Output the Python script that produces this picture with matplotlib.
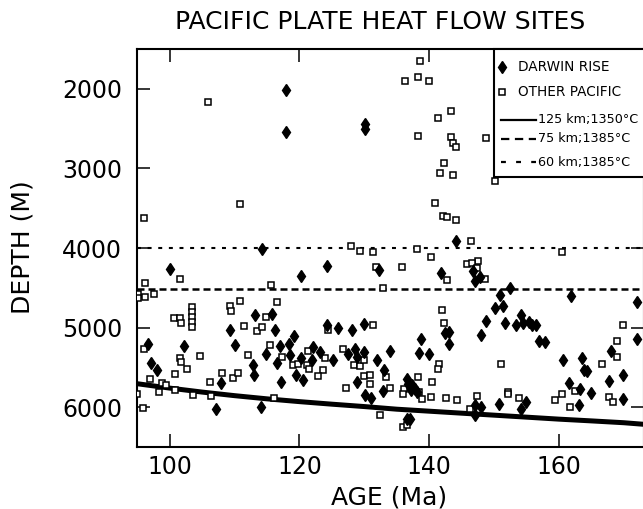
import numpy as np
import matplotlib
matplotlib.use("Agg")
import matplotlib.pyplot as plt
from matplotlib.patches import Rectangle
from matplotlib.lines import Line2D

plt.rcParams["font.family"] = "DejaVu Sans"

# Darwin Rise heat flow sites (age Ma, depth m)
darwin_age = [117.9, 118.0, 130.1, 130.1, 144.1, 114.2,
              100.1, 113.1, 109.3, 96.7, 102.2, 110.1, 97.1, 98.1, 112.9, 113.0, 107.9, 107.1, 114.0,
              124.2, 120.2, 132.3, 115.7, 116.2, 124.2, 125.9, 128.1, 130.0, 119.2, 117.0, 118.4,
              114.9, 118.5, 116.6, 122.1, 123.1, 120.3, 121.9, 125.2, 119.5, 120.6, 117.1, 127.5,
              128.5, 128.9, 130.0, 131.9, 134.0, 133.0, 128.8, 130.1, 131.0, 132.9,
              141.8, 146.7, 147.8, 147.1, 152.5, 150.9, 150.1, 151.4, 148.7, 151.7, 142.4, 143.1,
              143.0, 148.0, 138.8, 138.5, 140.0, 136.5, 136.8, 137.3, 137.8, 137.2, 138.1, 147.1,
              148.0, 147.1, 150.8, 136.5, 137.0,
              161.8, 172.1, 154.1, 153.4, 154.5, 155.4, 155.8, 156.5, 156.9, 157.8, 172.1, 168.0,
              160.6, 163.6, 163.8, 164.3, 169.8, 167.7, 161.6, 163.3, 164.9, 163.1, 169.9, 154.9, 154.2]
darwin_depth = [2013, 2537, 2440, 2510, 3910, 4017,
                4260, 4843, 5024, 5200, 5229, 5221, 5439, 5535, 5472, 5590, 5690, 6026, 5996,
                4223, 4349, 4277, 4831, 5032, 4961, 5011, 5024, 4952, 5108, 5229, 5200,
                5326, 5338, 5443, 5242, 5305, 5380, 5409, 5409, 5598, 5661, 5682, 5326,
                5263, 5367, 5305, 5409, 5296, 5535, 5682, 5841, 5879, 5795,
                4311, 4290, 4361, 4416, 4508, 4592, 4751, 4730, 4915, 4948, 5066, 5053,
                5200, 5095, 5137, 5313, 5334, 5640, 5703, 5724, 5766, 5787, 5808, 5967,
                5996, 6101, 5954, 6143, 6143,
                4600, 4676, 4843, 4969, 4948, 4927, 4961, 4961, 5170, 5187, 5145, 5296,
                5409, 5380, 5535, 5548, 5590, 5669, 5690, 5774, 5816, 5967, 5891, 5933, 6026]

# other Pacific sites
other_age = [105.9, 110.9, 96.1, 138.6, 136.2, 138.3, 140.0, 143.4, 141.4, 138.2, 143.4, 143.7,
             144.1, 148.8, 142.3, 141.7, 143.7, 150.2, 140.9, 142.2, 142.8, 144.1, 146.5, 128.0,
             129.4, 131.3, 138.1, 140.2, 147.5,
             101.6, 96.2, 95.1, 95.1, 96.2, 97.6, 103.5, 103.5, 103.5, 103.5, 103.5, 100.6, 101.6,
             101.8, 109.3, 109.5, 110.8, 111.5, 113.4, 114.2, 96.0, 104.6, 101.6, 101.8, 102.6,
             112.1, 97.0, 100.8, 98.8, 99.4, 98.4, 100.8, 103.6, 106.2, 106.3, 108.0, 109.8,
             110.5, 95.0, 95.9,
             131.8, 115.6, 132.9, 116.5, 114.8, 124.4, 131.4, 115.4, 117.3, 121.3, 123.9, 119.0,
             119.7, 121.1, 121.5, 123.7, 122.8, 126.7, 128.4, 129.4, 130.0, 129.9, 130.9, 130.9,
             133.3, 127.1, 134.0, 132.4, 116.0,
             135.8, 142.8, 145.8, 146.6, 147.4, 148.6, 142.0, 142.3, 141.5, 141.3, 151.1, 138.3,
             140.5, 136.1, 135.9, 138.5, 138.9, 140.3, 142.6, 144.3, 147.3, 146.3, 152.2, 152.1,
             153.9, 135.9, 136.5,
             160.4, 169.9, 168.9, 168.9, 166.6, 162.4, 160.5, 159.4, 161.7, 167.7, 168.3]
other_depth = [2160, 3447, 3619, 1656, 1908, 1853, 1908, 2277, 2369, 2595, 2604, 2675,
               2734, 2621, 2935, 3053, 3082, 3161, 3430, 3598, 3605, 3652, 3917, 3971,
               4038, 4050, 4010, 4117, 4160,
               4390, 4445, 4583, 4634, 4613, 4579, 4740, 4800, 4870, 4930, 4990, 4877, 4877,
               4948, 4726, 4789, 4663, 4977, 5040, 4998, 5271, 5355, 5388, 5430, 5514,
               5338, 5640, 5585, 5694, 5715, 5808, 5778, 5850, 5682, 5862, 5564, 5627,
               5564, 5837, 6005,
               4235, 4466, 4508, 4676, 4864, 5024, 4969, 5221, 5367, 5296, 5388, 5472,
               5451, 5472, 5514, 5527, 5611, 5271, 5464, 5485, 5401, 5611, 5590, 5703,
               5619, 5753, 5757, 6093, 5879,
               4235, 4403, 4206, 4193, 4248, 4390, 4776, 4936, 5451, 5514, 5451, 5619,
               5682, 5774, 5829, 5808, 5892, 5871, 5879, 5912, 5862, 6017, 5808, 5837,
               5883, 6248, 6227,
               4047, 4969, 5170, 5367, 5460, 5799, 5829, 5912, 5996, 5871, 5933]

# cooling model curve, 125 km; 1350C
model_age = [95, 100, 105, 110, 115, 120, 125, 130, 135, 140, 145, 150, 155, 160, 165, 170, 173.1]
model_depth = [5705, 5760, 5810, 5855, 5895, 5930, 5962, 5992, 6025, 6050, 6075, 6100, 6125,
               6150, 6172, 6195, 6215]

# asymptotic depths of the thinner plates
flat_depths = [4515, 4000]
flat_labels = ["75 km;1385°C", "60 km;1385°C"]

fig = plt.figure(figsize=(6.43, 5.09), dpi=100)
ax = fig.add_axes([0.2135, 0.1218, 0.788, 0.7819])

dash75 = (2.8, 1.6)
dash60 = (1.9, 3.2)
d_ms, s_ms = 6.6, 4.8

ax.plot(model_age, model_depth, color="black", lw=3.6, solid_capstyle="butt", zorder=3)
ax.axhline(flat_depths[0], color="black", lw=1.8, dashes=dash75, zorder=3)
ax.axhline(flat_depths[1], color="black", lw=1.5, dashes=dash60, zorder=3)

ax.plot(other_age, other_depth, "s", ms=s_ms, mfc="white", mec="black", mew=1.1, ls="none", zorder=4)
ax.plot(darwin_age, darwin_depth, "d", ms=d_ms, color="black", ls="none", zorder=5)

ax.set_xlim(95, 173.1)
ax.set_ylim(6500, 1500)
ax.set_xticks([100, 120, 140, 160])
ax.set_yticks([2000, 3000, 4000, 5000, 6000])

for sp in ax.spines.values():
    sp.set_linewidth(1.5)
ax.tick_params(direction="in", length=9.5, width=1.1, top=True, right=True, labelsize=17)
ax.tick_params(axis="y", pad=11)
ax.tick_params(axis="x", pad=6)

ax.set_xlabel("AGE (Ma)", fontsize=18, va="center")
ax.xaxis.set_label_coords(0.497, -0.126)
ax.set_ylabel("DEPTH (M)", fontsize=18, va="center")
ax.yaxis.set_label_coords(-0.2256, 0.5025)
ax.text(0.479, 1.068, "PACIFIC PLATE HEAT FLOW SITES", transform=ax.transAxes,
        ha="center", va="center", fontsize=18)

# hand made legend box in the upper right corner
tr = ax.transAxes
ax.add_patch(Rectangle((0.704, 0.678), 0.4, 0.322, transform=tr, facecolor="white",
                       edgecolor="black", lw=1.5, zorder=6, clip_on=False))
leg_y = [0.955, 0.892, 0.822, 0.774, 0.716]
leg_fs = 9.2
ax.add_line(Line2D([0.719], [leg_y[0]], marker="d", ms=d_ms, color="black", transform=tr, zorder=7))
ax.add_line(Line2D([0.719], [leg_y[1]], marker="s", ms=s_ms, mfc="white", mec="black", mew=1.1,
                   transform=tr, zorder=7))
ax.text(0.752, leg_y[0], "DARWIN RISE", transform=tr, va="center", fontsize=9.8, zorder=7)
ax.text(0.752, leg_y[1], "OTHER PACIFIC", transform=tr, va="center", fontsize=9.8, zorder=7)
ax.add_line(Line2D([0.717, 0.787], [leg_y[2]] * 2, color="black", lw=1.6, transform=tr, zorder=7))
ax.add_line(Line2D([0.717, 0.787], [leg_y[3]] * 2, color="black", lw=1.6, dashes=(3.75, 2.5),
                   transform=tr, zorder=7))
ax.add_line(Line2D([0.717, 0.787], [leg_y[4]] * 2, color="black", lw=1.6, dashes=(2.2, 4.6),
                   transform=tr, zorder=7))
ax.text(0.791, leg_y[2], "125 km;1350°C", transform=tr, va="center", fontsize=leg_fs, zorder=7)
ax.text(0.791, leg_y[3], flat_labels[0], transform=tr, va="center", fontsize=leg_fs, zorder=7)
ax.text(0.791, leg_y[4], flat_labels[1], transform=tr, va="center", fontsize=leg_fs, zorder=7)

fig.savefig("out.png", dpi=100)
